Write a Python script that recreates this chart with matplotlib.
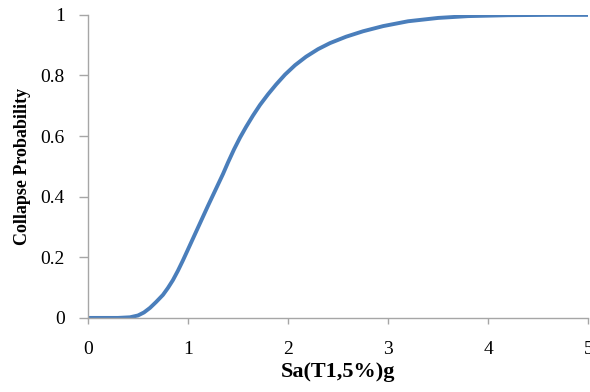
import matplotlib
matplotlib.use("Agg")
import matplotlib.pyplot as plt

# Collapse fragility curve: spectral acceleration vs. probability of collapse
sa_g = [0.0, 0.30, 0.42, 0.50, 0.56, 0.62, 0.68, 0.75, 0.80, 0.85, 0.90, 0.95,
        1.00, 1.05, 1.10, 1.15, 1.20, 1.25, 1.30, 1.35, 1.40, 1.46, 1.52,
        1.58, 1.65, 1.72, 1.80, 1.88, 1.97, 2.07, 2.18, 2.30, 2.42, 2.58,
        2.75, 2.95, 3.20, 3.50, 3.80, 4.20, 4.60, 5.00]
p_collapse = [0.0, 0.0, 0.002, 0.008, 0.018, 0.033, 0.052, 0.076, 0.099, 0.125,
              0.156, 0.190, 0.226, 0.262, 0.298, 0.334, 0.370, 0.405, 0.440,
              0.475, 0.513, 0.556, 0.595, 0.630, 0.668, 0.703, 0.738, 0.770,
              0.803, 0.834, 0.862, 0.887, 0.907, 0.928, 0.946, 0.963, 0.979,
              0.990, 0.996, 0.999, 1.0, 1.0]

x_ticks = [0, 1, 2, 3, 4, 5]
y_ticks = [0, 0.2, 0.4, 0.6, 0.8, 1.0]
y_tick_labels = ["0", "0.2", "0.4", "0.6", "0.8", "1"]

plt.rcParams["font.family"] = ["Liberation Serif", "DejaVu Serif"]

fig = plt.figure(figsize=(5.9, 3.92), dpi=100)
ax = fig.add_axes([0.149, 0.189, 0.848, 0.773])

ax.plot(sa_g, p_collapse, color="#4A7EBB", linewidth=2.8, solid_capstyle="round")

ax.set_xlim(0, 5)
ax.set_ylim(0, 1)
ax.set_xticks(x_ticks)
ax.set_yticks(y_ticks)
ax.set_yticklabels(y_tick_labels)

for side in ("top", "right"):
    ax.spines[side].set_visible(False)
for side in ("left", "bottom"):
    ax.spines[side].set_color("#A6A6A6")
    ax.spines[side].set_linewidth(1.0)

ax.tick_params(axis="both", direction="out", width=1.0,
               color="#A6A6A6", labelsize=14, labelcolor="black")
ax.tick_params(axis="x", length=4.5, pad=12)
ax.tick_params(axis="y", length=6.5, pad=10)

ax.set_xlabel("Sa(T1,5%)g", fontsize=16, fontweight="bold", labelpad=3)
ax.set_ylabel("Collapse Probability", fontsize=13, fontweight="bold", labelpad=7)

for lab in ax.get_xticklabels() + ax.get_yticklabels():
    lab.set_clip_on(False)

fig.savefig("out.png", dpi=100)
